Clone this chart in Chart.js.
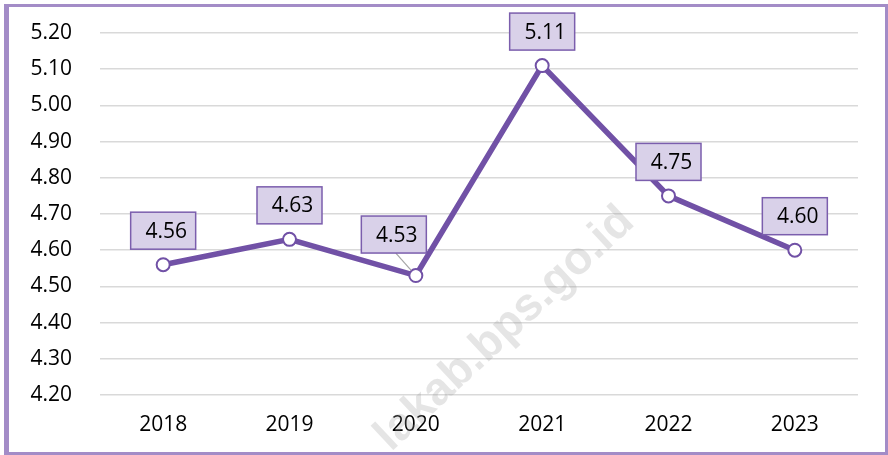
<!DOCTYPE html>
<html>
<head>
<meta charset="utf-8">
<script src="https://cdn.jsdelivr.net/npm/chart.js@4.4.1/dist/chart.umd.min.js"></script>
<style>
    body { margin: 0; background: #fff; }
    #wrap { position: relative; width: 888px; height: 455px; overflow: hidden; }
    #bingkai {
        position: absolute; left: 4px; top: 4px; width: 884px; height: 451px;
        box-sizing: border-box; border: 3px solid #A38CC7; border-left-width: 5px;
    }
    canvas { position: absolute; left: 0; top: 0; }
</style>
</head>
<body>
<div id="wrap">
    <canvas id="grafikIndeks" width="888" height="455"></canvas>
    <div id="bingkai"></div>
</div>
<script>
    const tahun = ['2018', '2019', '2020', '2021', '2022', '2023'];
    const nilai = [4.56, 4.63, 4.53, 5.11, 4.75, 4.60];
    const sumbuMin = 4.2;
    const sumbuMax = 5.2;
    const sumbuLangkah = 0.1;
    const teksWatermark = 'lakab.bps.go.id';

    // geser kotak label dari titik (px)
    const geserLabel = [[0, -34], [0, -34], [-22, -41], [0, -34], [0, -34], [0, -34]];

    const ungu = '#7151A6';

    const watermark = {
        id: 'watermark',
        beforeDatasetsDraw(chart) {
            const ctx = chart.ctx;
            ctx.save();
            ctx.beginPath();
            ctx.rect(9, 7, 876, 445);
            ctx.clip();
            ctx.translate(636, 224);
            ctx.rotate(-43 * Math.PI / 180);
            ctx.font = 'bold 46px "Liberation Sans", sans-serif';
            ctx.fillStyle = 'rgba(150,150,150,0.25)';
            ctx.textAlign = 'right';
            ctx.textBaseline = 'alphabetic';
            ctx.fillText(teksWatermark, 0, 0);
            ctx.restore();
        }
    };

    const labelKotak = {
        id: 'labelKotak',
        afterDatasetsDraw(chart) {
            const ctx = chart.ctx;
            const meta = chart.getDatasetMeta(0);
            const w = 65, h = 37;
            ctx.save();
            meta.data.forEach((pt, i) => {
                const [dx, dy] = geserLabel[i];
                const cx = pt.x + dx;
                const cy = pt.y + dy;
                if (dx !== 0) {
                    const sx = cx + 2, sy = cy + h / 2;
                    const len = Math.hypot(pt.x - sx, pt.y - sy);
                    const r = 7;
                    ctx.beginPath();
                    ctx.moveTo(sx, sy);
                    ctx.lineTo(pt.x - (pt.x - sx) * r / len, pt.y - (pt.y - sy) * r / len);
                    ctx.strokeStyle = '#A6A6A6';
                    ctx.lineWidth = 1.2;
                    ctx.stroke();
                }
                ctx.fillStyle = '#D9D1E9';
                ctx.fillRect(cx - w / 2, cy - h / 2, w, h);
                ctx.strokeStyle = '#7B5EAD';
                ctx.lineWidth = 1.5;
                ctx.strokeRect(cx - w / 2, cy - h / 2, w, h);
                ctx.fillStyle = '#000';
                ctx.font = '21px "Open Sans", sans-serif';
                ctx.textAlign = 'center';
                ctx.textBaseline = 'middle';
                ctx.fillText(nilai[i].toFixed(2), cx + 3, cy + 1);
            });
            ctx.restore();
        }
    };

    Chart.defaults.font.family = '"Open Sans", sans-serif';
    Chart.defaults.font.size = 21;
    Chart.defaults.color = '#000';

    new Chart(document.getElementById('grafikIndeks'), {
        type: 'line',
        data: {
            labels: tahun,
            datasets: [{
                data: nilai,
                borderColor: ungu,
                borderWidth: 5.5,
                pointRadius: 6.5,
                pointBorderWidth: 2,
                pointBorderColor: ungu,
                pointBackgroundColor: '#fff',
                tension: 0
            }]
        },
        options: {
            responsive: false,
            animation: false,
            layout: { padding: { top: 33, right: 30, left: 0, bottom: 0 } },
            plugins: {
                legend: { display: false },
                tooltip: { enabled: false }
            },
            scales: {
                x: {
                    offset: true,
                    grid: { display: false, drawTicks: false },
                    border: { display: false },
                    ticks: { padding: 17 },
                    afterFit(scale) { scale.height = 60; }
                },
                y: {
                    min: sumbuMin,
                    max: sumbuMax,
                    grid: { color: '#D9D9D9', lineWidth: 1.5, drawTicks: false },
                    border: { display: false },
                    ticks: {
                        stepSize: sumbuLangkah,
                        padding: 28,
                        callback: v => v.toFixed(2)
                    },
                    afterFit(scale) {
                        scale.width = 100;
                        scale.paddingTop = 12;
                        scale.paddingBottom = 12;
                    }
                }
            }
        },
        plugins: [watermark, labelKotak]
    });
</script>
</body>
</html>
